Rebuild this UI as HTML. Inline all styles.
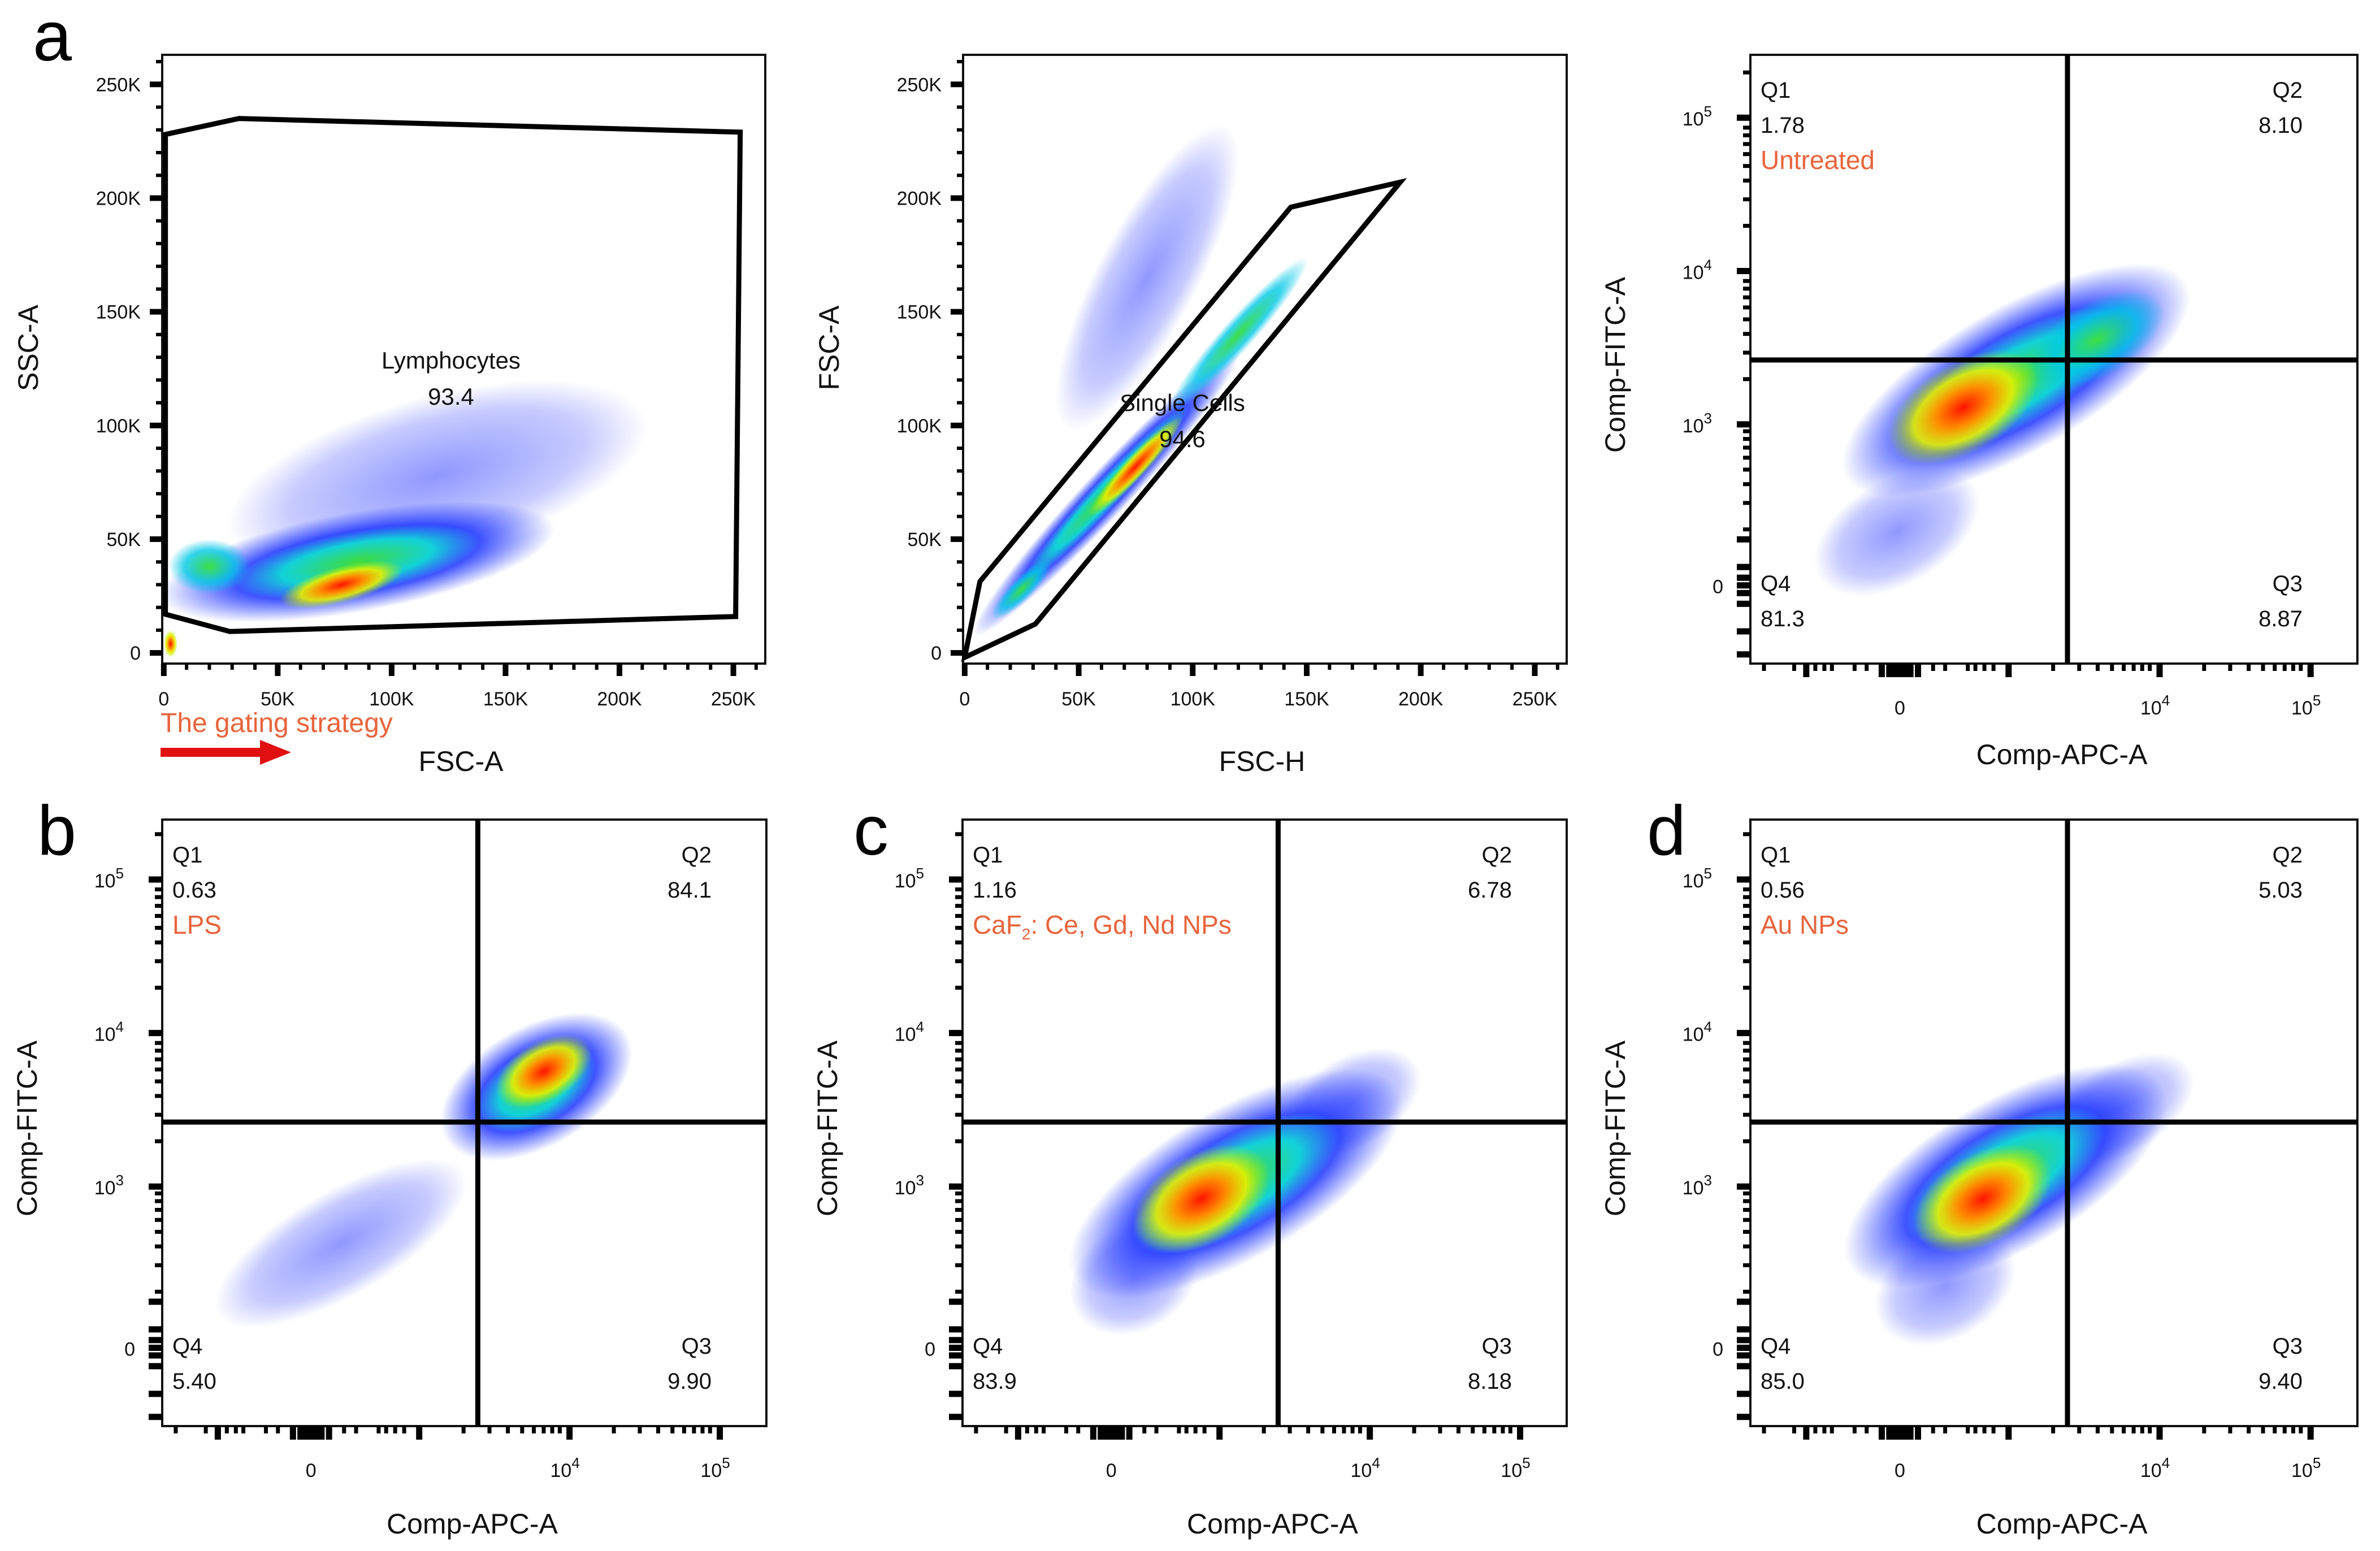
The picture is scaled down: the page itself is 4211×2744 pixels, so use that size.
<!DOCTYPE html>
<html><head><meta charset="utf-8"><style>
html,body{margin:0;padding:0;background:#fff;}
svg{display:block;font-family:"Liberation Sans",sans-serif;}
</style></head><body>
<svg id="fig" xmlns="http://www.w3.org/2000/svg" width="4211" height="2744" viewBox="0 0 4211 2744">
<defs>
<radialGradient id="g-outer"><stop offset="0" stop-color="#3fdc3a"/><stop offset="0.38" stop-color="#12d2d8"/><stop offset="0.62" stop-color="#1e35ff" stop-opacity="0.85"/><stop offset="1" stop-color="#1e35ff" stop-opacity="0"/></radialGradient>
<radialGradient id="g-core"><stop offset="0" stop-color="#ff1400"/><stop offset="0.35" stop-color="#ff8a00"/><stop offset="0.65" stop-color="#e8f000" stop-opacity="0.9"/><stop offset="1" stop-color="#a8f000" stop-opacity="0"/></radialGradient>
<radialGradient id="g-mid"><stop offset="0" stop-color="#3ee040"/><stop offset="0.6" stop-color="#00c8e8" stop-opacity="0.8"/><stop offset="1" stop-color="#00c8e8" stop-opacity="0"/></radialGradient>
<radialGradient id="g-sparse"><stop offset="0" stop-color="#2030ff" stop-opacity="0.5"/><stop offset="0.7" stop-color="#2030ff" stop-opacity="0.25"/><stop offset="1" stop-color="#2030ff" stop-opacity="0"/></radialGradient>
</defs>
</svg>
<script>
// ---------- Data ----------
// Panel a1: FSC-A vs SSC-A (K units)
const lymphGateX = [0.7, 33, 253, 251, 29, 0.7];
const lymphGateY = [228, 235, 229, 16, 9.4, 17];
const lymphBlobX = [120, 85, 20, 78, 3];
const lymphBlobY = [78, 40, 38, 30, 4];
const lymphBlobRx = [95, 88, 18, 28, 3];
const lymphBlobRy = [35, 22, 12, 8, 6];
const lymphBlobAngle = [-15, -10, 0, -15, 0];
const lymphBlobType = ["sparse", "outer", "mid", "core", "core"];
// Panel a2: FSC-H vs FSC-A
const singleGateX = [0, 6.7, 143, 191, 31];
const singleGateY = [-2, 31.4, 196, 207, 12.7];
const singleBlobX = [80, 62, 120, 75, 25];
const singleBlobY = [165, 70, 140, 82, 28];
const singleBlobRx = [75, 85, 45, 30, 18];
const singleBlobRy = [22, 10, 7, 5, 5];
const singleBlobAngle = [-62, -47, -48, -47, -45];
const singleBlobType = ["sparse", "outer", "mid", "core", "mid"];
const linTicks = [0, 50, 100, 150, 200, 250];
const linTickLabels = ["0", "50K", "100K", "150K", "200K", "250K"];
// Quadrant panels (biexponential display units)
const logTickPosY = [0, 1.05, 2.05, 3.05];
const logTickExpY = ["", "3", "4", "5"];
const logTickPosX = [0, 1.72, 2.72];
const logTickExpX = ["", "4", "5"];
const untreatedPct = ["1.78", "8.10", "8.87", "81.3"];
const untreatedBlobX = [-0.02, 0.77, 1.3, 0.42];
const untreatedBlobY = [0.35, 1.34, 1.6, 1.16];
const untreatedBlobRx = [0.6, 1.3, 0.5, 0.55];
const untreatedBlobRy = [0.35, 0.48, 0.25, 0.3];
const lpsPct = ["0.63", "84.1", "9.90", "5.40"];
const lpsBlobX = [0.2, 1.5, 1.55];
const lpsBlobY = [0.68, 1.7, 1.8];
const lpsBlobRx = [0.95, 0.7, 0.35];
const lpsBlobRy = [0.35, 0.4, 0.2];
const cafPct = ["1.16", "6.78", "8.18", "83.9"];
const cafBlobX = [0.15, 1.6, 0.83, 0.6];
const cafBlobY = [0.45, 1.6, 1.07, 0.97];
const cafBlobRx = [0.45, 0.5, 1.25, 0.5];
const cafBlobRy = [0.35, 0.3, 0.5, 0.3];
const auPct = ["0.56", "5.03", "9.40", "85.0"];
const auBlobX = [0.3, 1.45, 0.7, 0.55];
const auBlobY = [0.4, 1.55, 1.12, 0.97];
const auBlobRx = [0.5, 0.55, 1.2, 0.5];
const auBlobRy = [0.35, 0.3, 0.5, 0.3];
const gateXU = 1.11, gateYU = 1.47;

// ---------- Helpers ----------
const NS = "http://www.w3.org/2000/svg";
const svg = document.getElementById('fig');
function mk(tag, attrs, parent) {
  const e = document.createElementNS(NS, tag);
  for (const k in attrs) e.setAttribute(k, attrs[k]);
  (parent || svg).appendChild(e);
  return e;
}
function lin(d0, d1, r0, r1) { return v => r0 + (v - d0) / (d1 - d0) * (r1 - r0); }
function txt(x, y, s, size, anchor, fill, parent) {
  const t = mk('text', {x: x, y: y, 'font-size': size, 'text-anchor': anchor || 'start', fill: fill || '#111'}, parent);
  t.textContent = s;
  return t;
}
function blob(g, sx, sy, x, y, rx, ry, ang, type, pxPerUnit) {
  const cx = sx(x), cy = sy(y);
  const e = mk('ellipse', {cx: cx, cy: cy, rx: rx * pxPerUnit, ry: ry * pxPerUnit, fill: 'url(#g-' + type + ')', transform: 'rotate(' + ang + ' ' + cx + ' ' + cy + ')'}, g);
  
  
}
function box(g, L, T, R, B) {
  const r = mk('rect', {x: L, y: T, width: R - L, height: B - T, fill: 'none', stroke: '#111', 'stroke-width': 4}, g);
  
  
}
function panelLetter(x, y, s) {
  const t = txt(x, y, s, 124, 'start', '#000');
  
  
}

// ---------- Linear panels ----------
function linearPanel(name, L, T, R, B, xTitle, yTitle, gx, gy, bx, by, brx, bry, bang, btype, label, pct) {
  const g = mk('g', {});
  
  
  const sx = lin(-0.7, 264, L, R), sy = lin(-4.7, 263, B, T);
  const ppu = (sx(100) - sx(0)) / 100;
  const clip = mk('clipPath', {id: 'clip-' + name}, g);
  mk('rect', {x: L, y: T, width: R - L, height: B - T}, clip);
  const dg = mk('g', {'clip-path': 'url(#clip-' + name + ')'}, g);
  
  
  for (let i = 0; i < bx.length; i++) blob(dg, sx, sy, bx[i], by[i], brx[i], bry[i], bang[i], btype[i], ppu);
  box(g, L, T, R, B);
  const pts = gx.map((v, i) => sx(v) + ',' + sy(gy[i])).join(' ');
  const gate = mk('polygon', {points: pts, fill: 'none', stroke: '#000', 'stroke-width': 9, 'stroke-linejoin': 'miter'}, g);
  
  
  const lb = txt(label[0], label[1], label[2], 42, 'middle', '#111', g);
  
  
  const pv = txt(label[0], label[1] + 64, pct, 42, 'middle', '#111', g);
  
  
  for (let v = 0; v <= 260; v += 10) {
    const major = v % 50 === 0;
    const len = major ? 22 : 11, w = major ? 10 : 6;
    mk('line', {x1: sx(v), x2: sx(v), y1: B, y2: B + len, stroke: '#000', 'stroke-width': w}, g);
    mk('line', {x1: L, x2: L - len, y1: sy(v), y2: sy(v), stroke: '#000', 'stroke-width': w}, g);
  }
  linTicks.forEach((v, i) => {
    const a = txt(sx(v), B + 74, linTickLabels[i], 34, 'middle', '#111', g);
    
    
    const b = txt(L - 38, sy(v) + 12, linTickLabels[i], 34, 'end', '#111', g);
    
    
  });
  const xt = txt((L + R) / 2 - 5, B + 190, xTitle, 50, 'middle', '#111', g);
  
  
  const yt = txt(0, 0, yTitle, 50, 'middle', '#111', g);
  yt.setAttribute('transform', 'translate(' + (L - 220) + ',' + ((T + B) / 2 - 20) + ') rotate(-90)');
  
  
  return g;
}

// ---------- Quadrant panels ----------
function quadPanel(name, L, T, R, B, yLo, yHi, pct, bx, by, brx, bry, types, tag, xTitleOff) {
  const g = mk('g', {});
  
  
  const sx = lin(-0.99, 3.03, L, R), sy = lin(yLo, yHi, B, T);
  const ppu = (sx(1) - sx(0));
  const clip = mk('clipPath', {id: 'clip-' + name}, g);
  mk('rect', {x: L, y: T, width: R - L, height: B - T}, clip);
  const dg = mk('g', {'clip-path': 'url(#clip-' + name + ')'}, g);
  
  
  for (let i = 0; i < bx.length; i++) blob(dg, sx, sy, bx[i], by[i], brx[i], bry[i], -30, types[i], ppu);
  box(g, L, T, R, B);
  const vl = mk('line', {x1: sx(gateXU), x2: sx(gateXU), y1: T, y2: B, stroke: '#000', 'stroke-width': 9}, g);
  
  
  const hl = mk('line', {x1: L, x2: R, y1: sy(gateYU), y2: sy(gateYU), stroke: '#000', 'stroke-width': 9}, g);
  
  
  const yTickG = mk('g', {}, g);
  
  
  for (let d = 1; d <= 3; d++) {
    const base = logTickPosY[d];
    for (let k = 1; k <= 9; k++) {
      const u = base + Math.log10(k) * 0.98;
      if (u > yHi) break;
      mk('line', {x1: L, x2: L - (k === 1 ? 24 : 13), y1: sy(u), y2: sy(u), stroke: '#000', 'stroke-width': k === 1 ? 11 : 7}, yTickG);
    }
  }
  for (let k = 2; k <= 9; k++) {
    const u = 1.05 - Math.log10(10 / k) * 0.98;
    mk('line', {x1: L, x2: L - 13, y1: sy(u), y2: sy(u), stroke: '#000', 'stroke-width': 7}, yTickG);
  }
  [-0.12, -0.05, 0, 0.05, 0.12, -0.3, 0.3, -0.45].forEach(u => {
    if (u >= yLo) mk('line', {x1: L, x2: L - 24, y1: sy(u), y2: sy(u), stroke: '#000', 'stroke-width': 11}, yTickG);
  });
  const xTickG = mk('g', {}, g);
  
  
  for (let d = 0; d <= 2; d++) {
    const base = 0.72 + d;
    for (let k = 1; k <= 9; k++) {
      const u = base + Math.log10(k) * 0.98;
      if (u > 3.0) break;
      mk('line', {x1: sx(u), x2: sx(u), y1: B, y2: B + (k === 1 ? 24 : 13), stroke: '#000', 'stroke-width': k === 1 ? 11 : 7}, xTickG);
    }
  }
  [-0.9, -0.7, -0.62, -0.56, -0.5, -0.45, -0.3, -0.22, -0.12, -0.07, -0.03, 0, 0.03, 0.07, 0.12, 0.22, 0.3, 0.45, 0.5, 0.56, 0.62].forEach(u => {
    const heavy = Math.abs(u) < 0.13 || Math.abs(u + 0.62) < 0.01;
    mk('line', {x1: sx(u), x2: sx(u), y1: B, y2: B + (heavy ? 24 : 13), stroke: '#000', 'stroke-width': heavy ? 11 : 7}, xTickG);
  });
  logTickPosY.forEach((u, i) => {
    const t = txt(L - 48, sy(u) + 14, logTickExpY[i] ? '10' : '0', 34, 'end', '#111', g);
    if (logTickExpY[i]) {
      const s = mk('tspan', {dy: -16, 'font-size': 26}, t);
      s.textContent = logTickExpY[i];
      t.setAttribute('x', L - 68);
    }
    
    
  });
  logTickPosX.forEach((u, i) => {
    const t = txt(sx(u) - (logTickExpX[i] ? 8 : 0), B + 90, logTickExpX[i] ? '10' : '0', 34, 'middle', '#111', g);
    if (logTickExpX[i]) {
      const s = mk('tspan', {dy: -16, 'font-size': 26}, t);
      s.textContent = logTickExpX[i];
    }
    
    
  });
  const qL = L + 18, qR = R - 97;
  const q = [['Q1', pct[0], qL, T + 76, 'start'], ['Q2', pct[1], qR, T + 76, 'end'], ['Q3', pct[2], qR, B - 128, 'end'], ['Q4', pct[3], qL, B - 128, 'start']];
  q.forEach(a => {
    const n = txt(a[2], a[3], a[0], 40, a[4], '#111', g);
    
    
    const v = txt(a[2], a[3] + 62, a[1], 40, a[4], '#111', g);
    
    
  });
  const tg = txt(qL, T + 202, '', 46, 'start', '#e8643c', g);
  tg.innerHTML = tag;
  
  
  const xt = txt(sx(gateXU) - 10, B + xTitleOff, 'Comp-APC-A', 50, 'middle', '#111', g);
  
  
  const yt = txt(0, 0, 'Comp-FITC-A', 50, 'middle', '#111', g);
  yt.setAttribute('transform', 'translate(' + (L - 222) + ',' + ((T + B) / 2 + 10) + ') rotate(-90)');
  
  
}

// ---------- Build ----------
panelLetter(58, 107, 'a');
panelLetter(66, 1512, 'b');
panelLetter(1510, 1512, 'c');
panelLetter(2914, 1512, 'd');

linearPanel('lymphocyte-gate-plot', 287, 97, 1354, 1174, 'FSC-A', 'SSC-A', lymphGateX, lymphGateY, lymphBlobX, lymphBlobY, lymphBlobRx, lymphBlobRy, lymphBlobAngle, lymphBlobType, [798, 652, 'Lymphocytes'], '93.4');
linearPanel('single-cell-gate-plot', 1704, 97, 2772, 1174, 'FSC-H', 'FSC-A', singleGateX, singleGateY, singleBlobX, singleBlobY, singleBlobRx, singleBlobRy, singleBlobAngle, singleBlobType, [2092, 727, 'Single Cells'], '94.6');

quadPanel('untreated-quadrant-plot', 3097, 97, 4171, 1174, -0.51, 3.46, untreatedPct, untreatedBlobX, untreatedBlobY, untreatedBlobRx, untreatedBlobRy, ['sparse', 'outer', 'mid', 'core'], 'Untreated', 178);
quadPanel('lps-quadrant-plot', 287, 1450, 1356, 2523, -0.51, 3.44, lpsPct, lpsBlobX, lpsBlobY, lpsBlobRx, lpsBlobRy, ['sparse', 'outer', 'core'], 'LPS', 190);
quadPanel('caf2-quadrant-plot', 1703, 1450, 2772, 2523, -0.51, 3.44, cafPct, cafBlobX, cafBlobY, cafBlobRx, cafBlobRy, ['sparse', 'sparse', 'outer', 'core'], 'CaF<tspan font-size="28" dy="10">2</tspan><tspan dy="-10">: Ce, Gd, Nd NPs</tspan>', 190);
quadPanel('au-quadrant-plot', 3097, 1450, 4171, 2523, -0.51, 3.44, auPct, auBlobX, auBlobY, auBlobRx, auBlobRy, ['sparse', 'sparse', 'outer', 'core'], 'Au NPs', 190);

const gs = txt(284, 1295, 'The gating strategy', 48, 'start', '#e8643c');


const arrow = mk('g', {});


mk('rect', {x: 284, y: 1323, width: 180, height: 16, fill: '#e01010'}, arrow);
mk('polygon', {points: '460,1309 515,1331 460,1353', fill: '#e01010'}, arrow);
</script>
</body></html>
